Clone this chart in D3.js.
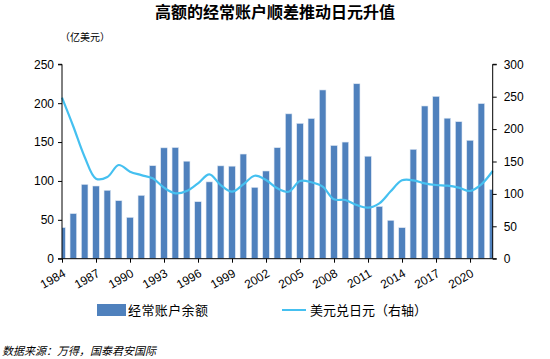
<!DOCTYPE html>
<html><head><meta charset="utf-8">
<script src="https://cdn.jsdelivr.net/npm/d3@7"></script>
<style>
html,body{margin:0;padding:0;background:#fff;}
svg{display:block;font-family:"Liberation Sans",Arial,sans-serif;}
</style></head>
<body><svg id="c" width="550" height="359"></svg>
<script>
const years = [1984,1985,1986,1987,1988,1989,1990,1991,1992,1993,1994,1995,1996,1997,1998,1999,2000,2001,2002,2003,2004,2005,2006,2007,2008,2009,2010,2011,2012,2013,2014,2015,2016,2017,2018,2019,2020,2021,2022];
const currentAccount = [40,58,95.6,93.5,88,74.6,53.2,81.5,119.6,142.6,143,125.4,73.3,98.8,119.4,119,134.6,91.8,112.8,142.8,186.3,174.1,180.3,217,145.6,150,225,131.8,67.2,49.4,39.9,140.7,196.4,208.8,180.7,176.2,152.3,199.5,89];
const usdJpy = [248.5,204,157,123.5,126,144.6,134.3,129,124,109.6,100.9,104.5,116.3,130.2,113.7,103.4,114.8,128,121.4,108.6,103.4,119.9,117.9,111.1,91.6,90.6,82.9,78.7,85.5,104,121,121,116.3,113.7,112.7,109.6,104.5,114.8,135.3];
const leftTicks = [0,50,100,150,200,250];
const rightTicks = [0,50,100,150,200,250,300];
const xTickYears = [1984,1987,1990,1993,1996,1999,2002,2005,2008,2011,2014,2017,2020];
const title = "高额的经常账户顺差推动日元升值";
const unitLabel = "（亿美元）";
const legendBar = "经常账户余额";
const legendLine = "美元兑日元（右轴）";
const source = "数据来源：万得，国泰君安国际";

const svg = d3.select("#c");
const L = 62, R = 492.7, T = 64.3, B = 258.7;
const x = d3.scalePoint().domain(years).range([L, R]);
const yL = d3.scaleLinear().domain([0,250]).range([B, T]);
const yR = d3.scaleLinear().domain([0,300]).range([B, T]);
const barW = 6.6;
const barColor = "#4F81BD", lineColor = "#45C0F0";

svg.append("defs").append("clipPath").attr("id","plot")
  .append("rect").attr("x",L).attr("y",T-10).attr("width",R-L).attr("height",B-T+10);

// title
svg.append("text").attr("x",275).attr("y",18).attr("text-anchor","middle")
  .attr("font-family","'Noto Sans CJK SC'").attr("font-weight","bold").attr("font-size",16)
  .attr("fill","#000").text(title);
svg.append("text").attr("x",60).attr("y",41)
  .attr("font-family","'Noto Sans CJK SC'").attr("font-size",10).attr("fill","#000").text(unitLabel);

// bars
svg.append("g").attr("clip-path","url(#plot)").selectAll("rect").data(years).join("rect")
  .attr("x",d=>x(d)-barW/2).attr("width",barW)
  .attr("y",(d,i)=>yL(currentAccount[i])).attr("height",(d,i)=>B-yL(currentAccount[i]))
  .attr("fill",barColor).attr("stroke","#dfe8f3").attr("stroke-width",0.6);

// line
const line = d3.line().x((d,i)=>x(years[i])).y(d=>yR(d)).curve(d3.curveCatmullRom.alpha(0.5));
svg.append("path").datum(usdJpy).attr("d",line).attr("fill","none")
  .attr("stroke",lineColor).attr("stroke-width",2.2);

// axes
const axL = d3.axisLeft(yL).tickValues(leftTicks).tickSize(4).tickPadding(4);
const axR = d3.axisRight(yR).tickValues(rightTicks).tickSize(4).tickPadding(7);
const axB = d3.axisBottom(x).tickValues(xTickYears).tickSize(4).tickFormat(d3.format("d"));
function style(g){ g.select(".domain").attr("stroke","#000"); g.selectAll(".tick line").attr("stroke","#000");
  g.selectAll("text").attr("font-size",12).attr("fill","#000").attr("font-family","'Liberation Sans',Arial,sans-serif"); }
svg.append("g").attr("transform",`translate(${L},0)`).call(axL).call(style).call(g=>g.select(".domain").attr("d",`M-4,${T}H0V${B}H-4`));
svg.append("g").attr("transform",`translate(${R},0)`).call(axR).call(style).call(g=>g.select(".domain").attr("d",`M4,${T}H0V${B}H4`));
const gb = svg.append("g").attr("transform",`translate(0,${B})`).call(axB).call(style);
gb.select(".domain").attr("d",`M${L},0H${R}`);
gb.selectAll(".tick text").attr("text-anchor","end").attr("dy",0).attr("y",0)
  .attr("transform","translate(4,17) rotate(-30)");

// legend
svg.append("rect").attr("x",97).attr("y",304).attr("width",29).attr("height",12).attr("fill",barColor);
svg.append("text").attr("x",128).attr("y",315).attr("font-family","'Noto Sans CJK SC'").attr("font-size",13)
  .attr("letter-spacing",0.4).attr("fill","#000").text(legendBar);
svg.append("line").attr("x1",282).attr("x2",306).attr("y1",310).attr("y2",310).attr("stroke",lineColor).attr("stroke-width",2);
svg.append("text").attr("x",310).attr("y",315).attr("font-family","'Noto Sans CJK SC'").attr("font-size",13)
  .attr("fill","#000").text(legendLine);

// source
svg.append("text").attr("x",2).attr("y",355).attr("font-family","'Noto Sans CJK SC'").attr("font-size",11)
  .attr("font-style","italic").attr("fill","#000").text(source);
</script></body></html>
